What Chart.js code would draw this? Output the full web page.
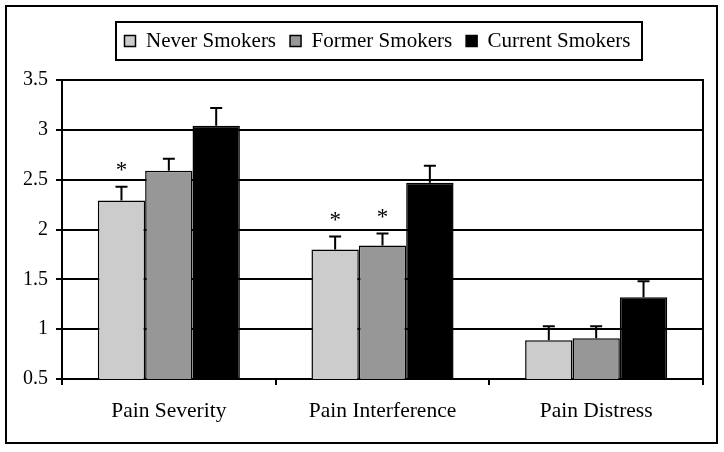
<!DOCTYPE html>
<html><head><meta charset="utf-8">
<script src="https://cdn.jsdelivr.net/npm/chart.js@4.4.0/dist/chart.umd.min.js"></script>
<style>html,body{margin:0;padding:0;background:#fff;}#wrap{width:724px;height:452px;position:relative;}</style>
</head><body><div id="wrap"><canvas id="c"></canvas></div>
<script>
const categories = ['Pain Severity', 'Pain Interference', 'Pain Distress'];
const seriesNames = ['Never Smokers', 'Former Smokers', 'Current Smokers'];
const neverSmokers = [2.29, 1.80, 0.89];
const formerSmokers = [2.59, 1.84, 0.91];
const currentSmokers = [3.04, 2.47, 1.32];
const neverErr = [0.14, 0.13, 0.14];
const formerErr = [0.12, 0.12, 0.12];
const currentErr = [0.18, 0.17, 0.16];
const neverSig = ['*', '*', ''];
const formerSig = ['', '*', ''];
const currentSig = ['', '', ''];
const yTickLabels = ['0.5', '1', '1.5', '2', '2.5', '3', '3.5'];

const SERIF = '"Liberation Serif", "Times New Roman", serif';
Chart.defaults.font.family = SERIF;
Chart.defaults.color = '#000';

const errorBarPlugin = {
  id: 'errorBars',
  afterDatasetsDraw(chart) {
    const ctx = chart.ctx, y = chart.scales.y;
    chart.data.datasets.forEach((ds, i) => {
      const meta = chart.getDatasetMeta(i);
      meta.data.forEach((bar, j) => {
        const top = y.getPixelForValue(ds.data[j] + ds.err[j]);
        ctx.save();
        ctx.strokeStyle = '#000';
        ctx.lineWidth = 2;
        ctx.beginPath();
        ctx.moveTo(bar.x, bar.y);
        ctx.lineTo(bar.x, top);
        ctx.moveTo(bar.x - 6, top);
        ctx.lineTo(bar.x + 6, top);
        ctx.stroke();
        if (ds.sig[j]) {
          ctx.fillStyle = '#000';
          ctx.font = '23px ' + SERIF;
          ctx.textAlign = 'center';
          ctx.textBaseline = 'middle';
          ctx.fillText(ds.sig[j], bar.x, top - 16);
        }
        ctx.restore();
      });
    });
  }
};

const LEGEND_SHIFT = 31;
const framePlugin = {
  id: 'frames',
  afterInit(chart) {
    const lg = chart.legend;
    if (lg) {
      const origFit = lg.fit.bind(lg);
      lg.fit = function () { origFit(); this.height = 63.5; };
      const origAdj = lg.adjustHitBoxes.bind(lg);
      lg.adjustHitBoxes = function () { this.left += LEGEND_SHIFT; origAdj(); this.left -= LEGEND_SHIFT; };
      const origDraw = lg.draw.bind(lg);
      lg.draw = function () { this.left += LEGEND_SHIFT; origDraw(); this.left -= LEGEND_SHIFT; };
    }
  },
  afterDraw(chart) {
    const ctx = chart.ctx;
    ctx.save();
    ctx.strokeStyle = '#000';
    ctx.lineWidth = 2;
    ctx.strokeRect(6, 6, 711, 437);
    const hb = chart.legend && chart.legend.legendHitBoxes;
    if (hb && hb.length) {
      const first = hb[0], last = hb[hb.length - 1];
      const l = first.left - 8, r = last.left + last.width + 12;
      const t = first.top - 8.5, b = first.top + first.height + 8.5;
      ctx.strokeRect(Math.round(l), Math.round(t), Math.round(r - l), Math.round(b - t));
    }
    ctx.restore();
  }
};

new Chart(document.getElementById('c'), {
  type: 'bar',
  data: {
    labels: categories,
    datasets: [
      { label: seriesNames[0], data: neverSmokers, err: neverErr, sig: neverSig, backgroundColor: '#cccccc' },
      { label: seriesNames[1], data: formerSmokers, err: formerErr, sig: formerSig, backgroundColor: '#979797' },
      { label: seriesNames[2], data: currentSmokers, err: currentErr, sig: currentSig, backgroundColor: '#000000' }
    ]
  },
  options: {
    responsive: true,
    maintainAspectRatio: false,
    animation: false,
    layout: { padding: { left: 0, right: 0, top: 16.5, bottom: 0 } },
    datasets: { bar: { categoryPercentage: 0.665, barPercentage: 1, borderColor: '#000', borderWidth: 1.5 } },
    plugins: {
      legend: {
        position: 'top',
        labels: { boxWidth: 11, boxHeight: 11, padding: 14, color: '#000', font: { size: 21, family: SERIF } }
      },
      tooltip: { enabled: false }
    },
    scales: {
      x: {
        grid: { offset: true, drawOnChartArea: false, drawTicks: true, tickLength: 6, color: '#000', lineWidth: 2 },
        border: { display: true, color: '#000', width: 2 },
        ticks: { color: '#000', padding: 13, maxRotation: 0, font: { size: 21.5, family: SERIF } },
        afterFit(s) { s.height = 73; }
      },
      y: {
        min: 0.5, max: 3.5,
        grid: { color: '#000', lineWidth: 2, tickLength: 6 },
        border: { display: true, color: '#000', width: 2 },
        ticks: { stepSize: 0.5, color: '#000', padding: 8, font: { size: 20, family: SERIF },
          callback: (v, i) => yTickLabels[i] },
        afterFit(s) { s.width = 62; }
      },
      y2: {
        position: 'right',
        grid: { display: false },
        border: { display: true, color: '#000', width: 2 },
        ticks: { display: false },
        afterFit(s) { s.width = 21; }
      }
    }
  },
  plugins: [errorBarPlugin, framePlugin]
});
</script></body></html>
